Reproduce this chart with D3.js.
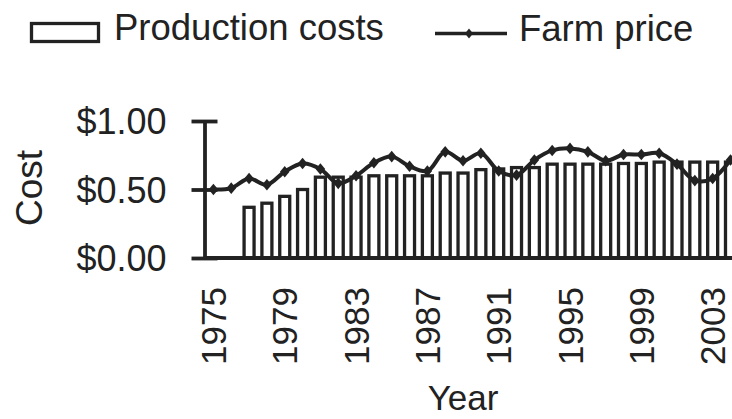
<!DOCTYPE html>
<html>
<head>
<meta charset="utf-8">
<script src="https://cdn.jsdelivr.net/npm/d3@7"></script>
<style>
  html, body { margin: 0; padding: 0; background: #fff; overflow: hidden; }
  svg { display: block; }
  text { font-family: "Liberation Sans", Arial, Helvetica, sans-serif; fill: #222; }
</style>
</head>
<body>
<svg id="chart" width="732" height="419"></svg>
<script>
// Years on the category axis
const years = [1975, 1976, 1977, 1978, 1979, 1980, 1981, 1982, 1983, 1984,
               1985, 1986, 1987, 1988, 1989, 1990, 1991, 1992, 1993, 1994,
               1995, 1996, 1997, 1998, 1999, 2000, 2001, 2002, 2003, 2004];

// Production costs per unit ($); no figures before 1977
const productionCosts = [null, null, 0.37, 0.40, 0.45, 0.50, 0.59, 0.59, 0.59, 0.60,
                         0.60, 0.60, 0.60, 0.62, 0.62, 0.645, 0.65, 0.66, 0.66, 0.685,
                         0.685, 0.685, 0.685, 0.69, 0.69, 0.70, 0.70, 0.70, 0.70, 0.70];

// Farm price per unit ($)
const farmPrice = [0.50, 0.51, 0.58, 0.535, 0.63, 0.69, 0.65, 0.545, 0.60, 0.695,
                   0.74, 0.67, 0.635, 0.775, 0.71, 0.765, 0.635, 0.605, 0.715, 0.785,
                   0.80, 0.775, 0.71, 0.755, 0.755, 0.765, 0.685, 0.565, 0.58, 0.715];

// Labelled years and cost ticks
const yearTicks = [1975, 1979, 1983, 1987, 1991, 1995, 1999, 2003];
const costTicks = [0, 0.5, 1];

const ink = "#222";
const fontStack = '"Liberation Sans", Arial, sans-serif';
const svg = d3.select("#chart");

const step = 17.83;
const x0 = 204.5;
const x = d3.scaleBand()
  .domain(years)
  .range([x0, x0 + step * years.length])
  .paddingInner(0.44)
  .paddingOuter(0.22);
const cx = d => x(d) + x.bandwidth() / 2;

const y = d3.scaleLinear().domain([0, 1]).range([258, 121]);

// Bars: production costs
const barData = years.map((yr, i) => ({ year: yr, value: productionCosts[i] }))
  .filter(d => d.value != null);

svg.append("g")
  .selectAll("rect")
  .data(barData)
  .join("rect")
  .attr("x", d => x(d.year))
  .attr("width", x.bandwidth())
  .attr("y", d => y(d.value))
  .attr("height", d => y(0) - y(d.value))
  .attr("fill", "#fff")
  .attr("stroke", ink)
  .attr("stroke-width", 3.3);

// Y axis with ticks crossing the axis line
const yAxis = svg.append("g")
  .attr("transform", `translate(${x0},0)`)
  .call(d3.axisLeft(y)
    .tickValues(costTicks)
    .tickFormat(d3.format("$.2f"))
    .tickSizeInner(13)
    .tickSizeOuter(0)
    .tickPadding(25));
yAxis.select(".domain").attr("stroke", ink).attr("stroke-width", 3.8);
yAxis.selectAll(".tick line")
  .attr("x1", 13)
  .attr("stroke", ink)
  .attr("stroke-width", 3.8);
yAxis.selectAll(".tick text")
  .attr("font-size", 36)
  .attr("fill", ink)
  .attr("dy", "0.36em")
  .style("font-family", fontStack);

// X axis: baseline plus rotated year labels
const xAxis = svg.append("g")
  .attr("transform", `translate(0,${y(0)})`)
  .call(d3.axisBottom(x).tickValues(yearTicks).tickSize(0).tickSizeOuter(0));
xAxis.select(".domain")
  .attr("d", `M${x0},0H${x0 + step * years.length + 10}`)
  .attr("stroke", ink)
  .attr("stroke-width", 3.8);
xAxis.selectAll(".tick text")
  .attr("font-size", 35)
  .attr("fill", ink)
  .attr("text-anchor", "end")
  .attr("x", 0)
  .attr("y", 0)
  .attr("dy", "0.36em")
  .attr("transform", "translate(0,29) rotate(-90)")
  .style("font-family", fontStack);

// Farm price line with diamond markers
const line = d3.line()
  .x((d, i) => cx(years[i]))
  .y(d => y(d))
  .curve(d3.curveCatmullRom.alpha(0.5));

svg.append("path")
  .datum(farmPrice)
  .attr("d", line)
  .attr("fill", "none")
  .attr("stroke", ink)
  .attr("stroke-width", 4)
  .attr("stroke-linejoin", "round");

const diamond = (w, h) => `M0,${-h}L${w},0L0,${h}L${-w},0Z`;

svg.append("g")
  .selectAll("path")
  .data(farmPrice)
  .join("path")
  .attr("transform", (d, i) => `translate(${cx(years[i])},${y(d)})`)
  .attr("d", diamond(4.8, 5.8))
  .attr("fill", ink);

// Axis titles
svg.append("text")
  .attr("transform", "translate(42,188) rotate(-90)")
  .attr("text-anchor", "middle")
  .attr("font-size", 37)
  .text("Cost");

svg.append("text")
  .attr("x", 463)
  .attr("y", 410)
  .attr("text-anchor", "middle")
  .attr("font-size", 35)
  .text("Year");

// Legend
const legend = svg.append("g");
legend.append("rect")
  .attr("x", 31.5).attr("y", 23.5)
  .attr("width", 67).attr("height", 18)
  .attr("fill", "#fff")
  .attr("stroke", ink)
  .attr("stroke-width", 3.3);
legend.append("text")
  .attr("x", 114).attr("y", 40)
  .attr("font-size", 36.5)
  .text("Production costs");
legend.append("line")
  .attr("x1", 435).attr("x2", 507)
  .attr("y1", 33.5).attr("y2", 33.5)
  .attr("stroke", ink)
  .attr("stroke-width", 3.3);
legend.append("path")
  .attr("transform", "translate(469,33.5)")
  .attr("d", diamond(4, 5))
  .attr("fill", ink);
legend.append("text")
  .attr("x", 519).attr("y", 41)
  .attr("font-size", 36.5)
  .text("Farm price");
</script>
</body>
</html>
